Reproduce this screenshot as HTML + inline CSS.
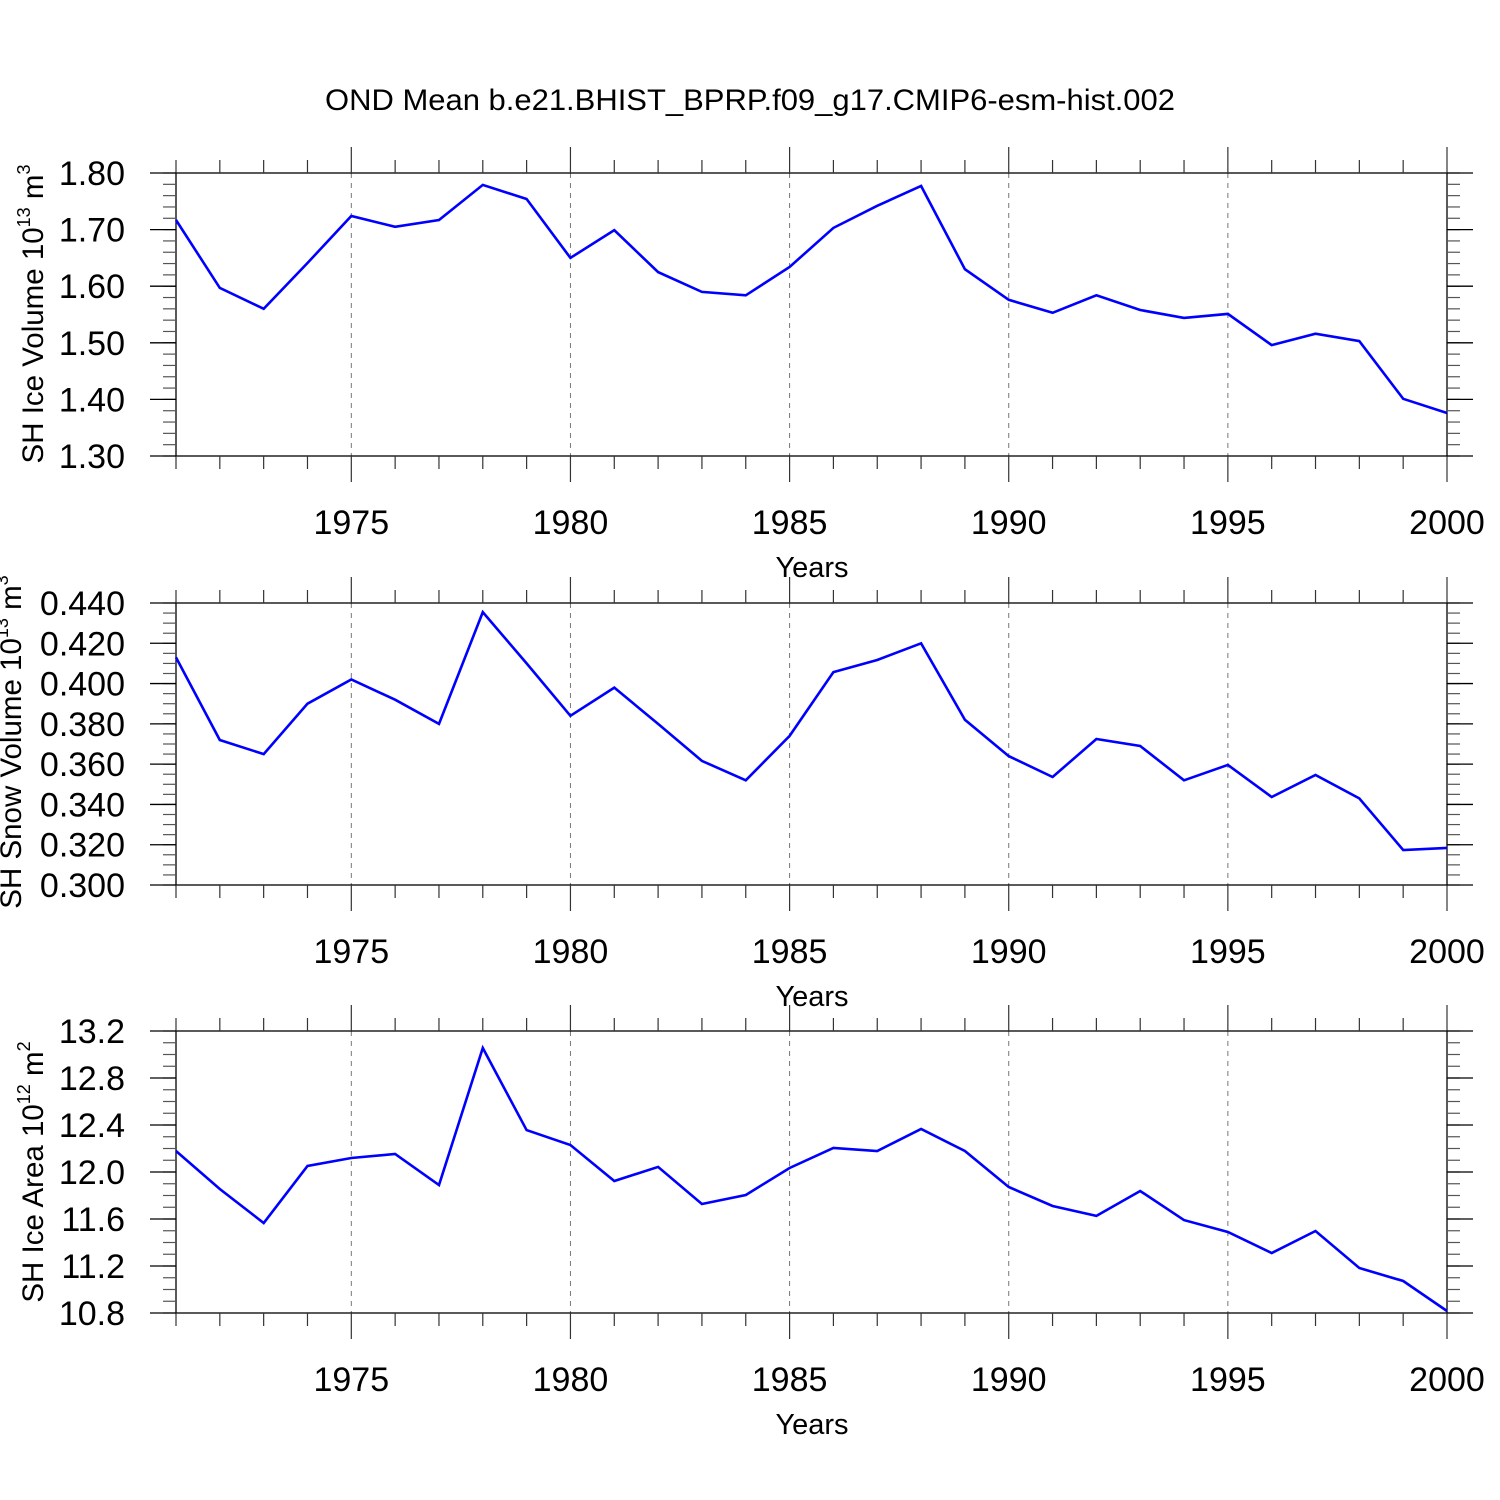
<!DOCTYPE html>
<html><head><meta charset="utf-8"><style>
html,body{margin:0;padding:0;background:#fff}
svg{display:block;font-family:"Liberation Sans",Arial,sans-serif}
</style></head><body>
<svg id="chart" width="1500" height="1500" viewBox="0 0 1500 1500" xmlns="http://www.w3.org/2000/svg">
<rect width="1500" height="1500" fill="#fff"/>
<text x="750" y="110" font-size="30" text-anchor="middle" textLength="850" lengthAdjust="spacingAndGlyphs">OND Mean b.e21.BHIST_BPRP.f09_g17.CMIP6-esm-hist.002</text>
</svg>
<script>
const years = [1971,1972,1973,1974,1975,1976,1977,1978,1979,1980,1981,1982,1983,1984,1985,1986,1987,1988,1989,1990,1991,1992,1993,1994,1995,1996,1997,1998,1999,2000];
const iceVolume = [1.717,1.597,1.560,1.641,1.724,1.705,1.717,1.779,1.754,1.650,1.699,1.625,1.590,1.584,1.634,1.703,1.742,1.777,1.630,1.576,1.553,1.584,1.558,1.544,1.551,1.496,1.516,1.503,1.401,1.376];
const snowVolume = [0.413,0.372,0.365,0.390,0.402,0.392,0.380,0.4355,0.410,0.384,0.398,0.380,0.3616,0.352,0.374,0.4057,0.4117,0.420,0.382,0.364,0.3536,0.3725,0.369,0.352,0.3596,0.3437,0.3546,0.343,0.3174,0.3184];
const iceArea = [12.179,11.855,11.566,12.051,12.119,12.153,11.889,13.055,12.357,12.230,11.923,12.043,11.728,11.804,12.034,12.204,12.179,12.366,12.179,11.872,11.711,11.626,11.838,11.591,11.489,11.311,11.498,11.183,11.072,10.817];
const xTickLabels = ["1975","1980","1985","1990","1995","2000"];
const volTicks = ["1.30","1.40","1.50","1.60","1.70","1.80"];
const snowTicks = ["0.300","0.320","0.340","0.360","0.380","0.400","0.420","0.440"];
const areaTicks = ["10.8","11.2","11.6","12.0","12.4","12.8","13.2"];

const svg = document.getElementById('chart');
const NS = 'http://www.w3.org/2000/svg';
const X0 = 176, X1 = 1447;
function xs(yr){ return X0 + (yr - 1971) / (2000 - 1971) * (X1 - X0); }
function mk(tag, attrs, parent){
  const e = document.createElementNS(NS, tag);
  for (const k in attrs) e.setAttribute(k, attrs[k]);
  (parent || svg).appendChild(e);
  return e;
}
function line(g, x1, y1, x2, y2, st, w, dash){
  const l = mk('line', {x1:x1, y1:y1, x2:x2, y2:y2, stroke:st, 'stroke-width':w}, g);
  if (dash) l.setAttribute('stroke-dasharray', dash);
  return l;
}

function panel(name, top, bottom, ymin, ymax, ticks, minorStep, values, titleParts, titleX, titleY){
  const g = mk('g', {});
  
  
  const ys = v => bottom - (v - ymin) / (ymax - ymin) * (bottom - top);
  for (let yr = 1975; yr <= 1995; yr += 5) {
    const gl = line(g, xs(yr), top, xs(yr), bottom, '#777', 1, '5,5');
    
    
  }
  const fr = mk('rect', {x:X0, y:top, width:X1-X0, height:bottom-top, fill:'none', stroke:'#000', 'stroke-width':1.3}, g);
  
  
  for (let yr = 1971; yr <= 2000; yr++) {
    const major = yr % 5 === 0;
    const L = major ? 26 : 13;
    line(g, xs(yr), top - L, xs(yr), top, '#333', 1.2);
    line(g, xs(yr), bottom, xs(yr), bottom + L, '#333', 1.2);
  }
  xTickLabels.forEach(lab => {
    const t = mk('text', {x:xs(+lab), y:bottom + 78, 'font-size':34, 'text-anchor':'middle'}, g);
    
    
    t.textContent = lab;
  });
  const xt = mk('text', {x:812, y:bottom + 121, 'font-size':29, 'text-anchor':'middle'}, g);
  
  
  xt.textContent = 'Years';
  const n = Math.round((ymax - ymin) / minorStep);
  for (let i = 0; i <= n; i++) {
    const v = ymin + i * minorStep;
    line(g, X0 - 13, ys(v), X0, ys(v), '#555', 1.2);
    line(g, X1, ys(v), X1 + 13, ys(v), '#555', 1.2);
  }
  ticks.forEach(lab => {
    const v = parseFloat(lab);
    line(g, X0 - 26, ys(v), X0, ys(v), '#000', 1.3);
    line(g, X1, ys(v), X1 + 26, ys(v), '#000', 1.3);
    const t = mk('text', {x:125, y:ys(v) + 12, 'font-size':34, 'text-anchor':'end'}, g);
    
    
    t.textContent = lab;
  });
  const yt = mk('text', {x:0, y:0, 'font-size':29.5, 'text-anchor':'middle', transform:'translate(' + titleX + ',' + titleY + ') rotate(-90)'}, g);
  
  
  const a = mk('tspan', {}, yt); a.textContent = titleParts[0];
  const b = mk('tspan', {dy:-13, 'font-size':18}, yt); b.textContent = titleParts[1];
  const c = mk('tspan', {dy:13}, yt); c.textContent = titleParts[2];
  const d = mk('tspan', {dy:-13, 'font-size':18}, yt); d.textContent = titleParts[3];
  const pts = values.map((v, i) => xs(years[i]).toFixed(1) + ',' + ys(v).toFixed(1)).join(' ');
  const pl = mk('polyline', {points:pts, fill:'none', stroke:'#0000ff', 'stroke-width':2.6, 'stroke-linejoin':'miter'}, g);
  
  
}

panel('ice-volume', 173, 456, 1.30, 1.80, volTicks, 0.02, iceVolume, ['SH Ice Volume 10','13',' m','3'], 43, 314);
panel('snow-volume', 603, 885, 0.300, 0.440, snowTicks, 0.005, snowVolume, ['SH Snow Volume 10','13',' m','3'], 21, 742);
panel('ice-area', 1031, 1313, 10.8, 13.2, areaTicks, 0.1, iceArea, ['SH Ice Area 10','12',' m','2'], 43, 1172);
</script>
</body></html>
